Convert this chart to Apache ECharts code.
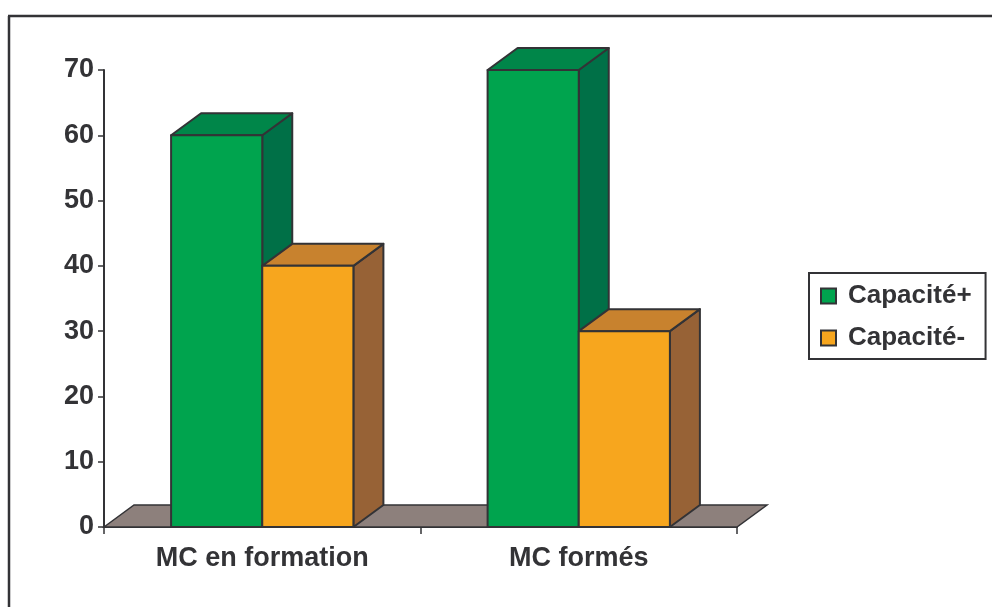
<!DOCTYPE html>
<html>
<head>
<meta charset="utf-8">
<script src="https://cdn.jsdelivr.net/npm/echarts@6/dist/echarts.min.js"></script>
<style>html,body{margin:0;padding:0;background:#fff}#c{width:992px;height:607px}</style>
</head>
<body>
<div id="c"></div>
<script>
var categories = ['MC en formation', 'MC formés'];
var seriesNames = ['Capacité+', 'Capacité-'];
var capacitePlus = [60, 70];
var capaciteMoins = [40, 30];
var yTicks = [0, 10, 20, 30, 40, 50, 60, 70];

var FONT = "'Liberation Sans', Arial, sans-serif";
var STROKE = '#333336';
var DX = 30, DY = -22;
var palettes = [
  {front: '#00a44e', top: '#008649', side: '#007047'},
  {front: '#f7a61e', top: '#c8822e', side: '#976236'}
];

function bar3D(k) {
  return function (params, api) {
    var cat = api.value(0), val = api.value(1);
    var t = api.coord([cat, val]);
    var b = api.coord([cat, 0]);
    var band = api.size([1, 0])[0];
    var bw = band * 0.288;
    var x0 = b[0] + (k === 0 ? -bw : 0);
    var x1 = x0 + bw;
    var yT = t[1], yB = b[1];
    var p = palettes[k];
    var st = {stroke: STROKE, lineWidth: 2, lineJoin: 'round'};
    return {
      type: 'group',
      children: [
        {type: 'polygon', shape: {points: [[x1, yT], [x1 + DX, yT + DY], [x1 + DX, yB + DY], [x1, yB]]},
          style: Object.assign({fill: p.side}, st)},
        {type: 'polygon', shape: {points: [[x0, yT], [x0 + DX, yT + DY], [x1 + DX, yT + DY], [x1, yT]]},
          style: Object.assign({fill: p.top}, st)},
        {type: 'rect', shape: {x: x0, y: yT, width: x1 - x0, height: yB - yT},
          style: Object.assign({fill: p.front}, st)}
      ]
    };
  };
}

function floor(params, api) {
  var cs = params.coordSys;
  var y = api.coord([0, 0])[1];
  var x = cs.x, w = cs.width;
  return {
    type: 'polygon',
    shape: {points: [[x, y], [x + DX, y + DY], [x + w + DX, y + DY], [x + w, y]]},
    style: {fill: '#8d807c', stroke: STROKE, lineWidth: 1.5}
  };
}

var chart = echarts.init(document.getElementById('c'));
chart.setOption({
  animation: false,
  backgroundColor: '#ffffff',
  grid: {left: 104, right: 255, top: 70, bottom: 80},
  legend: {
    orient: 'vertical',
    left: 809, top: 273,
    data: seriesNames,
    icon: 'rect',
    itemWidth: 15, itemHeight: 15, itemGap: 16,
    padding: [10, 14, 8, 11],
    borderColor: STROKE, borderWidth: 2,
    textStyle: {fontFamily: FONT, fontWeight: 'bold', fontSize: 26, color: '#333336', padding: [0, 0, 0, 7]}
  },
  xAxis: {
    type: 'category',
    data: categories,
    axisLine: {lineStyle: {color: STROKE, width: 2}},
    axisTick: {show: true, length: 7, lineStyle: {color: STROKE, width: 1.5}},
    axisLabel: {fontFamily: FONT, fontWeight: 'bold', fontSize: 27, color: '#333336', margin: 18},
    splitLine: {show: false}
  },
  yAxis: {
    type: 'value',
    min: 0, max: 70, interval: 10,
    axisLine: {show: true, lineStyle: {color: STROKE, width: 2}},
    axisTick: {show: true, length: 6, lineStyle: {color: STROKE, width: 1.5}},
    axisLabel: {fontFamily: FONT, fontWeight: 'bold', fontSize: 27, color: '#333336', margin: 10,
      formatter: function (v) { return yTicks.indexOf(v) >= 0 ? String(v) : ''; }},
    splitLine: {show: false}
  },
  graphic: [
    {type: 'line', shape: {x1: 8, y1: 16, x2: 992, y2: 16}, style: {stroke: STROKE, lineWidth: 2.5}, z: 100},
    {type: 'line', shape: {x1: 9, y1: 16, x2: 9, y2: 607}, style: {stroke: STROKE, lineWidth: 2.5}, z: 100}
  ],
  series: [
    {type: 'custom', name: '__floor', renderItem: floor, data: [[0, 0]], silent: true, z: 1},
    {type: 'custom', name: seriesNames[0], renderItem: bar3D(0), z: 2,
      itemStyle: {color: palettes[0].front, borderColor: STROKE, borderWidth: 1.5},
      data: capacitePlus.map(function (v, i) { return [i, v]; })},
    {type: 'custom', name: seriesNames[1], renderItem: bar3D(1), z: 3,
      itemStyle: {color: palettes[1].front, borderColor: STROKE, borderWidth: 1.5},
      data: capaciteMoins.map(function (v, i) { return [i, v]; })}
  ]
});
</script>
</body>
</html>
